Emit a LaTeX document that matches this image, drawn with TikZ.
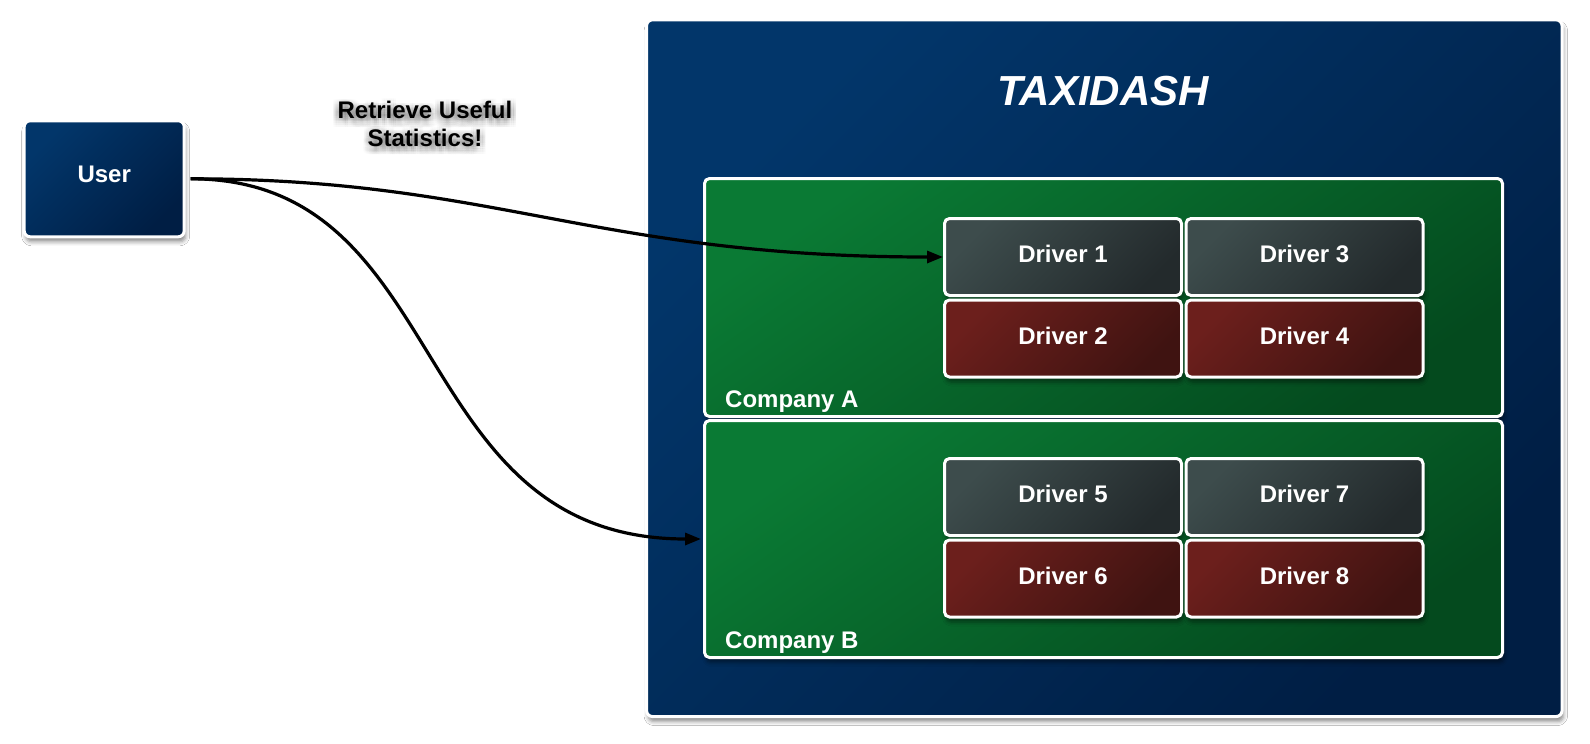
\documentclass[tikz,border=0pt]{standalone}
\usepackage{fontspec}
\setmainfont{Liberation Sans}
\usetikzlibrary{arrows.meta,shadows.blur}

\definecolor{navyA}{HTML}{02366A}
\definecolor{navyB}{HTML}{001E44}
\definecolor{greenA}{HTML}{0A7A34}
\definecolor{greenB}{HTML}{044A1E}
\definecolor{slateA}{HTML}{3D4C4C}
\definecolor{slateB}{HTML}{232A2C}
\definecolor{rustA}{HTML}{6C1F1C}
\definecolor{rustB}{HTML}{3F1311}

\tikzset{
  softshadow/.style={blur shadow={shadow xshift=1.5pt, shadow yshift=-5pt,
      shadow blur radius=4pt, shadow opacity=45}},
  panel/.style={draw=white, line width=3pt, rounded corners=6pt,
      inner sep=0pt, softshadow},
  navyfill/.style={top color=navyA, bottom color=navyB, shading angle=45},
  greenfill/.style={top color=greenA, bottom color=greenB, shading angle=35},
  slatefill/.style={top color=slateA, bottom color=slateB, shading angle=45},
  rustfill/.style={top color=rustA, bottom color=rustB, shading angle=45},
  boxtext/.style={text=white, font=\fontsize{24}{28}\selectfont\bfseries},
  drivercell/.style={panel, rounded corners=5pt, minimum width=237pt,
      minimum height=77pt, boxtext, text depth=6pt},
  grouplabel/.style={boxtext, anchor=base west, inner sep=0pt},
  statstext/.style={align=center, inner sep=0pt,
      font=\fontsize{24}{27.5}\selectfont\bfseries},
  link/.style={draw=black, line width=3.2pt, shorten <=5pt,
      -{Triangle[length=16pt,width=12pt]}},
}

\begin{document}
\begin{tikzpicture}[x=1pt,y=-1pt]
  \useasboundingbox[fill=white] (0,0) rectangle (1590,744);

  % main application frame
  \node[panel, navyfill, minimum width=915.5pt, minimum height=696.7pt]
    (dash) at (1104.3,368.2) {};
  \node[text=white, anchor=base, inner sep=0pt,
        font=\fontsize{42}{50}\selectfont\bfseries\itshape]
    (title) at (1103,105) {TAXIDASH};

  % companies
  \node[panel, greenfill, rounded corners=5pt, minimum width=798pt,
        minimum height=238pt] (compA) at (1103.5,297.5) {};
  \node[grouplabel] (labA) at (725,407) {Company A};
  \node[panel, greenfill, rounded corners=5pt, minimum width=798pt,
        minimum height=237pt] (compB) at (1103.5,539) {};
  \node[grouplabel] (labB) at (725,648.5) {Company B};

  % drivers of company A
  \node[drivercell, slatefill] (d1) at (1063,257)   {Driver 1};
  \node[drivercell, rustfill]  (d2) at (1063,338.5) {Driver 2};
  \node[drivercell, slatefill] (d3) at (1304.5,257)   {Driver 3};
  \node[drivercell, rustfill]  (d4) at (1304.5,338.5) {Driver 4};

  % drivers of company B
  \node[drivercell, slatefill] (d5) at (1063,497)   {Driver 5};
  \node[drivercell, rustfill]  (d6) at (1063,578.5) {Driver 6};
  \node[drivercell, slatefill] (d7) at (1304.5,497)   {Driver 7};
  \node[drivercell, rustfill]  (d8) at (1304.5,578.5) {Driver 8};

  % user
  \node[panel, navyfill, minimum width=160pt, minimum height=116pt,
        boxtext, text depth=10pt] (user) at (104.2,178.8) {User};

  % caption with a soft grey glow behind it
  \coordinate (statspos) at (425,124);
  \foreach \i in {0,...,6}
    \foreach \j in {0,...,6}
      \node[statstext, text=black, text opacity=0.016,
            xshift={(\i-3)*1.8pt}, yshift={-3pt-(\j-3)*1.8pt}]
        (glow\i\j) at (statspos) {Retrieve Useful\\Statistics!};
  \node[statstext, text=black] (stats) at (statspos)
    {Retrieve Useful\\Statistics!};

  % requests
  \draw[link] (user.east) .. controls +(310,0) and +(-350,0) .. (d1.west);
  \draw[link, shorten >=2pt] (user.east) .. controls +(270,0) and +(-300,0) .. (compB.west);
\end{tikzpicture}
\end{document}
